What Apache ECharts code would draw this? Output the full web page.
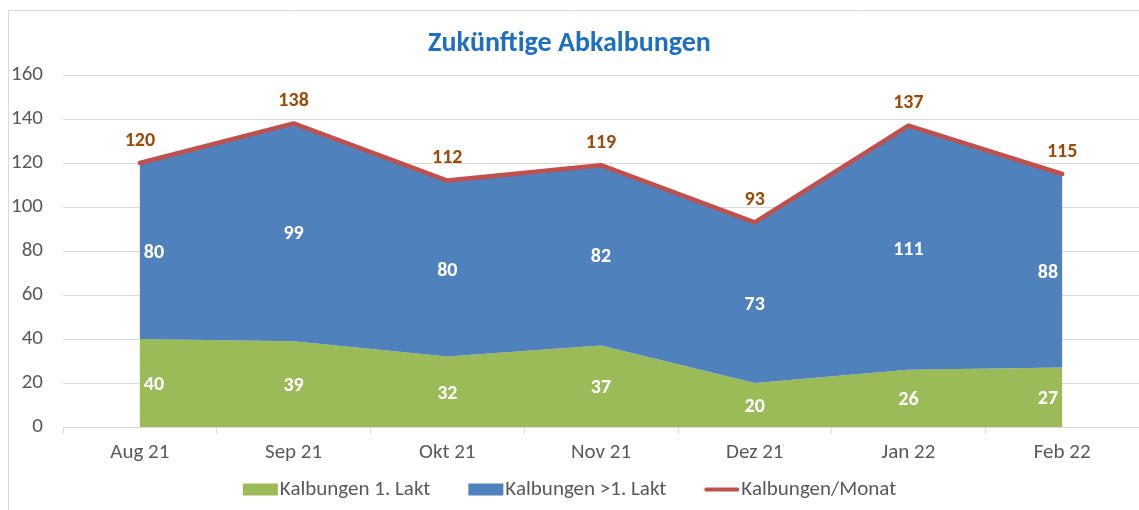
<!DOCTYPE html>
<html><head><meta charset="utf-8">
<script src="https://cdn.jsdelivr.net/npm/echarts@6/dist/echarts.min.js"></script>
<style>html,body{margin:0;padding:0;background:#fff}#c{width:1139px;height:510px}</style>
</head><body><div id="c"></div>
<script>
const categories = ['Aug 21','Sep 21','Okt 21','Nov 21','Dez 21','Jan 22','Feb 22'];
const laktErst = [40,39,32,37,20,26,27];
const laktMehr = [80,99,80,82,73,111,88];
const total = [120,138,112,119,93,137,115];
const yTicks = [0,20,40,60,80,100,120,140,160];

const font = 'Calibri, Carlito, "Liberation Sans", "Open Sans", sans-serif';
const n = categories.length;
function align(i){ return i===0?'left':(i===n-1?'right':'center'); }
function offs(i){ return i===0?[4,2]:(i===n-1?[-4,2]:[0,2]); }
const midErst = laktErst.map((v,i)=>({value:v/2, label:{align:align(i),offset:offs(i),formatter:String(v)}}));
const midMehr = laktMehr.map((v,i)=>({value:laktErst[i]+v/2, label:{align:align(i),offset:offs(i),formatter:String(v)}}));

const hiddenLbl = (name, data, lbl) => ({name, type:'line', data, symbol:'circle', symbolSize:1, showSymbol:true, showAllSymbol:true,
  itemStyle:{color:'rgba(0,0,0,0)', borderWidth:0}, lineStyle:{color:'rgba(0,0,0,0)', width:0}, silent:true, z:10,
  label:Object.assign({show:true, fontFamily:font, fontWeight:'bold', opacity:1}, lbl)});

const chart = echarts.init(document.getElementById('c'));
chart.setOption({
  animation:false,
  title:{text:'Zukünftige Abkalbungen',left:'center',top:25,textStyle:{color:'#1F6FC0',fontSize:28,fontWeight:'bold',fontFamily:font}},
  graphic:[{type:'rect',shape:{x:8.5,y:10.5,width:1140,height:520},style:{fill:'none',stroke:'#D9D9D9',lineWidth:1}}],
  grid:{left:63,right:0,top:75,bottom:83},
  legend:{bottom:5,left:'center',padding:[5,0,5,12],itemGap:38,itemWidth:35,itemHeight:12,textStyle:{fontSize:21,color:'#595959',fontFamily:font,padding:[0,0,0,-3]},
    data:[{name:'Kalbungen 1. Lakt',icon:'rect'},{name:'Kalbungen >1. Lakt',icon:'rect'},{name:'Kalbungen/Monat',icon:'path://M2,4 L34,4 A2,2 0 0 1 34,8 L2,8 A2,2 0 0 1 2,4 Z'}]},
  xAxis:{type:'category',data:categories,boundaryGap:true,
    axisLine:{lineStyle:{color:'#D9D9D9'}},axisTick:{show:true,length:7,lineStyle:{color:'#D9D9D9'}},
    axisLabel:{fontSize:21,color:'#595959',fontFamily:font,margin:15}},
  yAxis:{type:'value',min:0,max:160,interval:20,
    axisLine:{show:false},axisTick:{show:false},
    splitLine:{lineStyle:{color:'#D9D9D9'}},
    axisLabel:{fontSize:21,color:'#595959',fontFamily:font,margin:20,formatter:v=>yTicks.includes(v)?String(v):''}},
  series:[
    {name:'Kalbungen 1. Lakt',type:'line',stack:'a',data:laktErst,symbol:'none',lineStyle:{width:0},areaStyle:{color:'#9BBB59',opacity:1},itemStyle:{color:'#9BBB59'}},
    {name:'Kalbungen >1. Lakt',type:'line',stack:'a',data:laktMehr,symbol:'none',lineStyle:{width:0},areaStyle:{color:'#4F81BD',opacity:1},itemStyle:{color:'#4F81BD'}},
    {name:'Kalbungen/Monat',type:'line',data:total,symbol:'none',lineStyle:{width:4.5,color:'#C0504D',cap:'round',join:'round'},itemStyle:{color:'#C0504D'}},
    hiddenLbl('lblTotal', total, {position:'top',distance:12,color:'#9C4A0A',fontSize:20}),
    hiddenLbl('lblErst', midErst, {position:'inside',color:'#fff',fontSize:20}),
    hiddenLbl('lblMehr', midMehr, {position:'inside',color:'#fff',fontSize:20})
  ]
});
</script></body></html>
